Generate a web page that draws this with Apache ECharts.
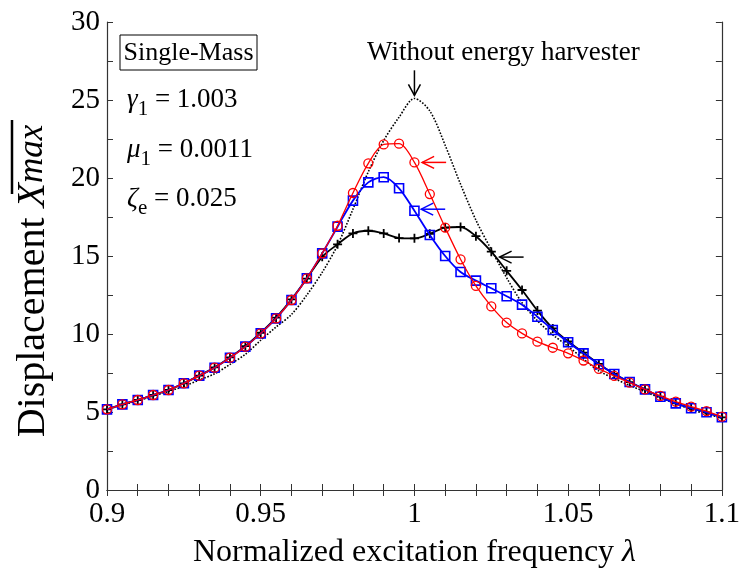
<!DOCTYPE html>
<html>
<head>
<meta charset="utf-8">
<script src="https://cdn.jsdelivr.net/npm/echarts@6/dist/echarts.min.js"></script>
<style>html,body{margin:0;padding:0;background:#fff}#c{width:743px;height:574px}</style>
</head>
<body>
<div id="c"></div>
<script>
// Normalized excitation frequency (marker positions)
var lambda = [0.900,0.905,0.910,0.915,0.920,0.925,0.930,0.935,0.940,0.945,0.950,0.955,0.960,0.965,0.970,0.975,0.980,0.985,0.990,0.995,1.000,1.005,1.010,1.015,1.020,1.025,1.030,1.035,1.040,1.045,1.050,1.055,1.060,1.065,1.070,1.075,1.080,1.085,1.090,1.095,1.100];
// Without energy harvester (dotted)
var yNone = [5.15,5.45,5.72,6.02,6.32,6.65,7.05,7.45,8.05,8.70,9.60,10.45,11.25,12.50,13.95,15.70,18.00,20.40,22.40,23.90,25.10,24.30,22.10,19.60,17.30,15.40,13.60,12.00,10.85,9.95,9.20,8.40,7.63,7.15,6.70,6.30,5.90,5.55,5.15,4.88,4.60];
// Black curve with "+" markers
var yBlack = [5.17,5.49,5.77,6.09,6.41,6.84,7.33,7.86,8.50,9.22,10.08,11.05,12.22,13.55,14.95,15.75,16.45,16.62,16.45,16.15,16.13,16.42,16.82,16.86,16.27,15.28,14.05,12.82,11.50,10.36,9.52,8.80,8.08,7.44,6.92,6.45,5.98,5.55,5.24,4.98,4.66];
// Blue curve with square markers
var yBlue = [5.17,5.49,5.77,6.09,6.41,6.84,7.33,7.84,8.48,9.19,10.04,11.00,12.18,13.57,15.17,16.88,18.55,19.72,20.05,19.34,17.90,16.35,15.00,13.97,13.42,12.93,12.42,11.88,11.11,10.26,9.47,8.76,8.06,7.44,6.92,6.45,5.98,5.55,5.24,4.98,4.66];
// Red curve with circle markers
var yRed = [5.17,5.49,5.77,6.09,6.41,6.84,7.33,7.84,8.48,9.19,10.04,11.00,12.18,13.57,15.17,16.94,19.04,20.94,22.15,22.20,21.00,18.97,16.82,14.79,13.08,11.77,10.73,10.04,9.51,9.12,8.76,8.30,7.76,7.31,6.88,6.45,6.03,5.66,5.34,5.06,4.70];

var xTickLabels = ['0.9','0.95','1','1.05','1.1'];
var yTickLabels = ['0','5','10','15','20','25','30'];

function pairs(ys){ return lambda.map(function(x,i){ return [x, ys[i]]; }); }

var FONT = 'Liberation Serif';
var chart = echarts.init(document.getElementById('c'), null, {renderer:'canvas'});

function xFmt(v){
  var k = Math.round(v*100);
  if (k % 5 !== 0) return '';
  var s = String(+(k/100).toFixed(2));
  return xTickLabels.indexOf(s) >= 0 ? s : '';
}
function yFmt(v){
  var s = String(+v.toFixed(1));
  return yTickLabels.indexOf(s) >= 0 ? s : '';
}

var axisLine = {show:true, lineStyle:{color:'#333', width:1.2}};
var tick = {show:true, inside:true, length:6, lineStyle:{color:'#333', width:1}};

var option = {
  backgroundColor:'#fff',
  animation:false,
  grid:{left:107, right:21, top:22, bottom:84, containLabel:false},
  xAxis:[{
    type:'value', min:0.9, max:1.1, interval:0.01, position:'bottom',
    axisLine:axisLine, axisTick:tick, splitLine:{show:false},
    axisLabel:{formatter:xFmt, color:'#000', fontFamily:FONT, fontSize:29, margin:10, showMinLabel:true, showMaxLabel:true},
    name:'{n|Normalized excitation frequency }{l|λ}', nameLocation:'middle', nameGap:47,
    nameTextStyle:{rich:{n:{fontFamily:FONT, fontSize:32, color:'#000'}, l:{fontFamily:FONT, fontSize:32, fontStyle:'italic', color:'#000'}}}
  },{
    type:'value', min:0.9, max:1.1, interval:0.01, position:'top',
    axisLine:axisLine, axisTick:tick, axisLabel:{show:false}, splitLine:{show:false}
  }],
  yAxis:[{
    type:'value', min:0, max:30, interval:2.5, position:'left',
    axisLine:axisLine, axisTick:tick, splitLine:{show:false},
    axisLabel:{formatter:yFmt, color:'#000', fontFamily:FONT, fontSize:29, margin:7}
  },{
    type:'value', min:0, max:30, interval:2.5, position:'right',
    axisLine:axisLine, axisTick:tick, axisLabel:{show:false}, splitLine:{show:false}
  }],
  series:[
    {name:'Without energy harvester', type:'line', data:pairs(yNone), smooth:0.3, showSymbol:false, z:2,
     lineStyle:{color:'#000', width:1.6, type:'dotted'}},
    {name:'black', type:'line', data:pairs(yBlack), smooth:0.3, z:3,
     symbol:'path://M4,0h2v4h4v2h-4v4h-2v-4h-4v-2h4z', symbolSize:9,
     itemStyle:{color:'#000'}, lineStyle:{color:'#000', width:1.8}},
    {name:'blue', type:'line', data:pairs(yBlue), smooth:0.3, z:4,
     symbol:'rect', symbolSize:9,
     itemStyle:{color:'rgba(0,0,0,0)', borderColor:'#0000ff', borderWidth:1.6},
     lineStyle:{color:'#0000ff', width:1.8}},
    {name:'red', type:'line', data:pairs(yRed), smooth:0.3, z:5,
     symbol:'circle', symbolSize:9,
     itemStyle:{color:'rgba(0,0,0,0)', borderColor:'#ff0000', borderWidth:1.3},
     lineStyle:{color:'#ff0000', width:1.3}}
  ]
};
chart.setOption(option);

// Annotation arrows anchored to data coordinates: [x, y, color, direction]
var arrowTips = [
  [1.0000, 25.3, '#000', 'down'],
  [1.0025, 21.0, '#ff0000', 'left'],
  [1.0022, 18.0, '#0000ff', 'left'],
  [1.0277, 14.93, '#000', 'left']
];
var g = [];
arrowTips.forEach(function(a){
  var p = chart.convertToPixel({gridIndex:0}, [a[0], a[1]]);
  var x = p[0], y = p[1];
  if (a[3] === 'down') {
    g.push({type:'line', shape:{x1:x, y1:y-25, x2:x, y2:y}, style:{stroke:a[2], lineWidth:1.5}, z:10});
    g.push({type:'polyline', shape:{points:[[x-6,y-11],[x,y],[x+6,y-11]]}, style:{stroke:a[2], lineWidth:1.5, fill:null}, z:10});
  } else {
    g.push({type:'line', shape:{x1:x, y1:y, x2:x+24, y2:y}, style:{stroke:a[2], lineWidth:1.5}, z:10});
    g.push({type:'polyline', shape:{points:[[x+12,y-6],[x,y],[x+12,y+6]]}, style:{stroke:a[2], lineWidth:1.5, fill:null}, z:10});
  }
});

// Text annotations
g.push({type:'rect', shape:{x:120, y:35, width:137, height:35}, style:{stroke:'#000', lineWidth:1, fill:'#fff'}, z:9});
g.push({type:'text', x:188.5, y:53, style:{text:'Single-Mass', font:'26px "Liberation Serif"', fill:'#000', align:'center', verticalAlign:'middle'}, z:10});
var params = [['γ','1',' = 1.003',100],['μ','1',' = 0.0011',150],['ζ','e',' = 0.025',199]];
params.forEach(function(p){
  g.push({type:'text', x:127, y:p[3], style:{
    text:'{g|'+p[0]+'}{s|'+p[1]+'}{n|'+p[2]+'}', align:'left', verticalAlign:'middle',
    rich:{
      g:{fontFamily:FONT, fontSize:27, fontStyle:'italic', fill:'#000', lineHeight:40, verticalAlign:'middle'},
      s:{fontFamily:FONT, fontSize:21, fill:'#000', lineHeight:40, verticalAlign:'bottom', padding:[14,0,0,0]},
      n:{fontFamily:FONT, fontSize:27, fill:'#000', lineHeight:40, verticalAlign:'middle'}
    }}, z:10});
});
g.push({type:'text', x:367, y:53, style:{text:'Without energy harvester', font:'27px "Liberation Serif"', fill:'#000', align:'left', verticalAlign:'middle'}, z:10});

// Y axis title (rotated) with overline over X_max
g.push({type:'text', x:33, y:281, rotation:Math.PI/2, style:{
  text:'{n|Displacement }{x|X}{m|max}', align:'center', verticalAlign:'middle',
  rich:{
    n:{fontFamily:FONT, fontSize:40, fill:'#000'},
    x:{fontFamily:FONT, fontSize:40, fontStyle:'italic', fill:'#000'},
    m:{fontFamily:FONT, fontSize:35, fontStyle:'italic', fill:'#000'}
  }}, z:10});
g.push({type:'line', shape:{x1:12, y1:120, x2:12, y2:194}, style:{stroke:'#000', lineWidth:2.5}, z:10});

chart.setOption({graphic:g});
</script>
</body>
</html>
